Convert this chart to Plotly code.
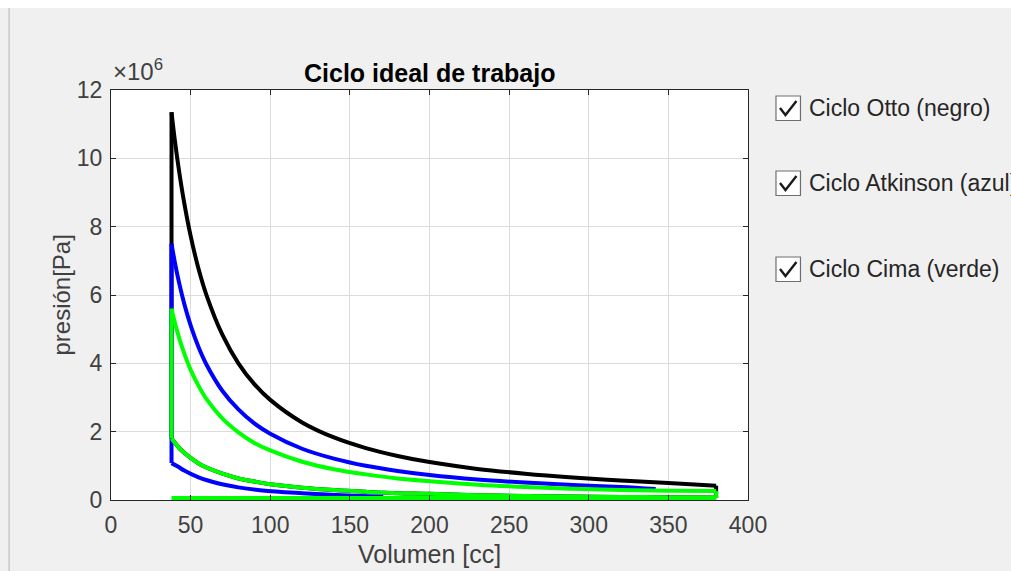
import plotly.graph_objects as go

# ---- data (volume in cc, pressure in x10^6 Pa) ----
V_exp = [38, 40, 43, 46, 50, 55, 60, 70, 80, 90, 100, 120, 140, 160, 180, 200, 230, 260, 290, 320, 350, 380]
otto_exp = [11.35, 10.56, 9.55, 8.69, 7.73, 6.76, 5.99, 4.83, 4.00, 3.39, 2.93, 2.27, 1.83, 1.52, 1.29, 1.11,
            0.91, 0.77, 0.66, 0.57, 0.50, 0.42]
cima_exp = [5.6, 5.21, 4.71, 4.29, 3.81, 3.34, 2.95, 2.38, 1.98, 1.67, 1.45, 1.12, 0.90, 0.75, 0.63, 0.55,
            0.45, 0.38, 0.33, 0.29, 0.27, 0.26]
comp = [1.8, 1.68, 1.51, 1.38, 1.23, 1.07, 0.95, 0.77, 0.63, 0.54, 0.46, 0.36, 0.29, 0.24, 0.20, 0.18,
        0.14, 0.12, 0.10, 0.09, 0.08, 0.07]

V_atk_exp = [38, 40, 43, 46, 50, 55, 60, 70, 80, 90, 100, 120, 140, 160, 180, 200, 230, 260, 290, 320, 342]
atk_exp = [7.5, 6.98, 6.31, 5.74, 5.11, 4.47, 3.96, 3.19, 2.65, 2.24, 1.94, 1.50, 1.21, 1.00, 0.85, 0.73,
           0.60, 0.51, 0.44, 0.38, 0.32]
V_atk_comp = [38, 42, 46, 55, 67, 80, 95, 120, 145, 171]
atk_comp = [1.08, 0.98, 0.86, 0.66, 0.49, 0.37, 0.28, 0.20, 0.14, 0.10]

V_line = [38, 380]
p_line = [0.06, 0.06]

legend_labels = ["Ciclo Otto (negro)", "Ciclo Atkinson (azul)", "Ciclo Cima (verde)"]
x_ticks = [0, 50, 100, 150, 200, 250, 300, 350, 400]
y_ticks = [0, 2, 4, 6, 8, 10, 12]

# ---- layout geometry (pixels) ----
W, H = 1011, 571
L, R, T, B = 110.5, 748, 90, 500
PW, PH = R - L, B - T


def fx(px):
    return (px - L) / PW


def fy(py):
    return (B - py) / PH


fig = go.Figure()
lw = 4


def seg(x, y, color, shape="spline"):
    fig.add_trace(go.Scatter(x=x, y=y, mode="lines", showlegend=False, hoverinfo="skip",
                             line=dict(color=color, width=lw, shape=shape, smoothing=1.0)))


# Otto (black)
seg(V_exp, comp, "#000000")
seg([V_exp[0], V_exp[0]], [comp[0], otto_exp[0]], "#000000", "linear")
seg(V_exp, otto_exp, "#000000")
seg([V_exp[-1], V_exp[-1]], [otto_exp[-1], p_line[-1]], "#000000", "linear")
# Atkinson (blue)
seg(V_atk_comp, atk_comp, "#0000ff")
seg([V_atk_comp[0], V_atk_exp[0]], [atk_comp[0], atk_exp[0]], "#0000ff", "linear")
seg(V_atk_exp, atk_exp, "#0000ff")
# Cima (green)
seg(V_exp, comp, "#00ff00")
seg([V_exp[0], V_exp[0]], [comp[0], cima_exp[0]], "#00ff00", "linear")
seg(V_exp, cima_exp, "#00ff00")
seg([V_exp[-1], V_exp[-1]], [cima_exp[-1], p_line[-1]], "#00ff00", "linear")
seg(V_line, p_line, "#00ff00", "linear")

axcol = "#262626"
fnt = "Liberation Sans, Arial, sans-serif"
txtcol = "#404040"
fig.update_xaxes(range=[0, 400], tickvals=x_ticks, showgrid=True, gridcolor="#dcdcdc", gridwidth=1,
                 showline=True, linecolor=axcol, linewidth=1, mirror="ticks", ticks="inside",
                 ticklen=5, tickcolor=axcol, zeroline=False, ticklabelstandoff=4,
                 tickfont=dict(family=fnt, size=23, color=txtcol))
fig.update_yaxes(range=[0, 12], tickvals=y_ticks, showgrid=True, gridcolor="#dcdcdc", gridwidth=1,
                 showline=True, linecolor=axcol, linewidth=1, mirror="ticks", ticks="inside",
                 ticklen=5, tickcolor=axcol, zeroline=False, ticklabelstandoff=3,
                 tickfont=dict(family=fnt, size=23, color=txtcol))

shapes = [
    dict(type="rect", xref="paper", yref="paper", x0=fx(-5), x1=fx(W + 5), y0=fy(8), y1=fy(-5),
         fillcolor="#ffffff", line=dict(width=0), layer="below"),
    dict(type="line", xref="paper", yref="paper", x0=fx(8.5), x1=fx(8.5), y0=fy(8), y1=fy(H + 5),
         line=dict(color="#c8c8c8", width=1.5)),
]
annotations = [
    dict(text="<b>Ciclo ideal de trabajo</b>", xref="paper", yref="paper", x=fx((L + R) / 2), y=fy(73),
         xanchor="center", yanchor="middle", showarrow=False, font=dict(family=fnt, size=25, color="#000000")),
    dict(text="×10<sup>6</sup>", xref="paper", yref="paper", x=fx(111), y=fy(87),
         xanchor="left", yanchor="bottom", showarrow=False, font=dict(family=fnt, size=24, color=txtcol)),
    dict(text="Volumen [cc]", xref="paper", yref="paper", x=fx((L + R) / 2), y=fy(554),
         xanchor="center", yanchor="middle", showarrow=False, font=dict(family=fnt, size=25, color=txtcol)),
    dict(text="presión[Pa]", xref="paper", yref="paper", x=fx(60), y=fy(295), textangle=-90,
         xanchor="center", yanchor="middle", showarrow=False, font=dict(family=fnt, size=24, color=txtcol)),
]
box_tops = [96, 171, 257]
for lab, bt in zip(legend_labels, box_tops):
    shapes.append(dict(type="rect", xref="paper", yref="paper", x0=fx(776), x1=fx(800.5), y0=fy(bt + 24.5), y1=fy(bt),
                       fillcolor="#ffffff", line=dict(color="#6e6e6e", width=1.2)))
    shapes.append(dict(type="path", xref="paper", yref="paper",
                       path=f"M {fx(780)},{fy(bt + 12)} L {fx(785.5)},{fy(bt + 19)} L {fx(796.5)},{fy(bt + 5)}",
                       line=dict(color="#1a1a1a", width=2.4)))
    annotations.append(dict(text=lab, xref="paper", yref="paper", x=fx(807), y=fy(bt + 12),
                            xanchor="left", yanchor="middle", showarrow=False,
                            font=dict(family=fnt, size=23, color="#262626")))

fig.update_layout(width=W, height=H, autosize=False,
                  margin=dict(l=L, r=W - R, t=T, b=H - B),
                  paper_bgcolor="#f0f0f0", plot_bgcolor="#ffffff",
                  shapes=shapes, annotations=annotations)

fig.write_html("out.html")
